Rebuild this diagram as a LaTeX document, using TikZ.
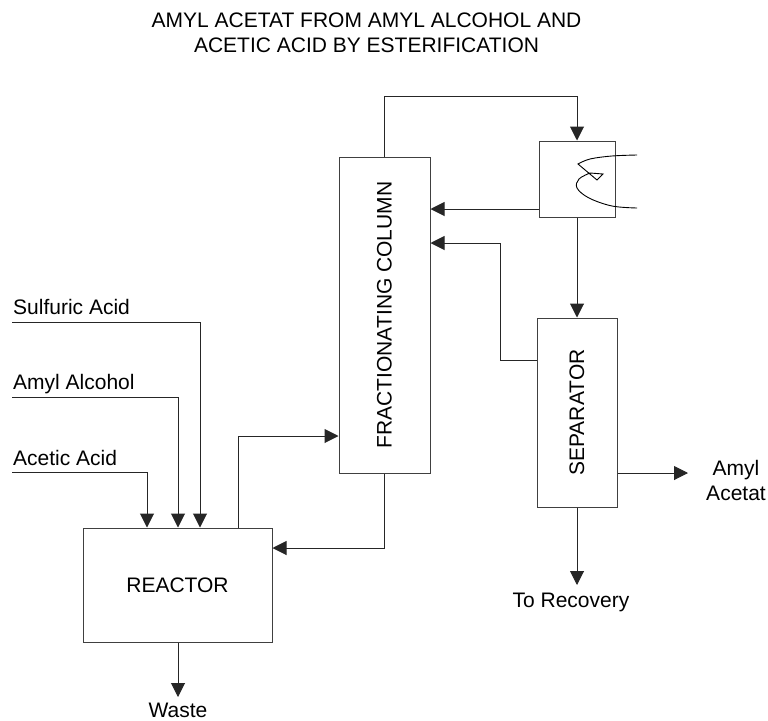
\documentclass[tikz,border=0pt]{standalone}
\usepackage{fontspec}
\setmainfont{Liberation Sans}
\usetikzlibrary{arrows.meta}
\begin{document}
\begin{tikzpicture}[x=1pt,y=-1pt,
  unit/.style={draw=black!75,line width=1pt,fill=white,inner sep=0pt,font=\fontsize{21}{24}\selectfont},
  lbl/.style={inner sep=0pt,font=\fontsize{21}{25}\selectfont},
  ln/.style={draw=black!85,line width=1pt},
  arr/.style={ln,-{Triangle[length=14pt,width=14pt]}}]
\useasboundingbox (0,0) rectangle (768,720);
% title
\node[lbl,align=center] (title) at (366.5,33) {AMYL ACETAT FROM AMYL ALCOHOL AND\\ACETIC ACID BY ESTERIFICATION};
% units
\node[unit,minimum width=189pt,minimum height=114pt] (reac) at (177.5,585) {REACTOR};
\node[unit,minimum width=91pt,minimum height=316pt] (col) at (384.5,315) {\rotatebox{90}{FRACTIONATING COLUMN}};
\node[unit,minimum width=76pt,minimum height=76pt] (cond) at (577,179) {};
\node[unit,minimum width=80pt,minimum height=189pt] (sep) at (577,412.5) {\rotatebox{90}{SEPARATOR}};
% condenser coil
\draw[line width=0.9pt] plot[smooth,tension=0.6] coordinates {(637,155) (612,156) (590,159) (578,164)}
  -- (597,180) -- (603,174) -- (590,173)
  plot[smooth,tension=0.6] coordinates {(590,173) (579,179) (577,188) (589,198) (612,206) (637,208)};
% feed labels
\node[lbl,anchor=base west] (sa) at (13,314) {Sulfuric Acid};
\node[lbl,anchor=base west] (aa) at (13,389) {Amyl Alcohol};
\node[lbl,anchor=base west] (ac) at (13,465) {Acetic Acid};
\coordinate (saS) at (12,322); \coordinate (saC) at (200,322);
\coordinate (aaS) at (12,397); \coordinate (aaC) at (178,397);
\coordinate (acS) at (12,472); \coordinate (acC) at (147,472);
\draw[arr] (saS) -- (saC) -- (saC |- reac.north);
\draw[arr] (aaS) -- (aaC) -- (aaC |- reac.north);
\draw[arr] (acS) -- (acC) -- (acC |- reac.north);
% reactor to column
\coordinate (rc) at (238,436);
\draw[arr] (rc |- reac.north) -- (rc) -- (rc -| col.west);
% column bottoms to reactor
\draw[arr] (col.south) |- ([yshift=37pt]reac.east);
% column top to condenser
\coordinate (topc) at (577,96);
\draw[arr] (col.north) -- (col.north |- topc) -- (topc) -- (cond.north);
% condenser to column
\draw[arr] ([yshift=-30pt]cond.west) -- ([yshift=-30pt]cond.west -| col.east);
% condenser to separator
\draw[arr] (cond.south) -- (sep.north);
% separator recycle
\coordinate (rec) at (500,243);
\draw[arr] ([yshift=52.5pt]sep.west) -| (rec) -- (rec -| col.east);
% separator product
\coordinate (prod) at (688,473);
\draw[arr] (sep.east |- prod) -- (prod);
\node[lbl,align=center] (amyl) at (736,480) {Amyl\\Acetat};
% to recovery
\coordinate (recov) at (577,585);
\draw[arr] (sep.south) -- (recov);
\node[lbl] (tor) at (571,602) {To Recovery};
% waste
\coordinate (wst) at (178,697);
\draw[arr] (reac.south -| wst) -- (wst);
\node[lbl] (waste) at (178,710) {Waste};
\end{tikzpicture}
\end{document}
